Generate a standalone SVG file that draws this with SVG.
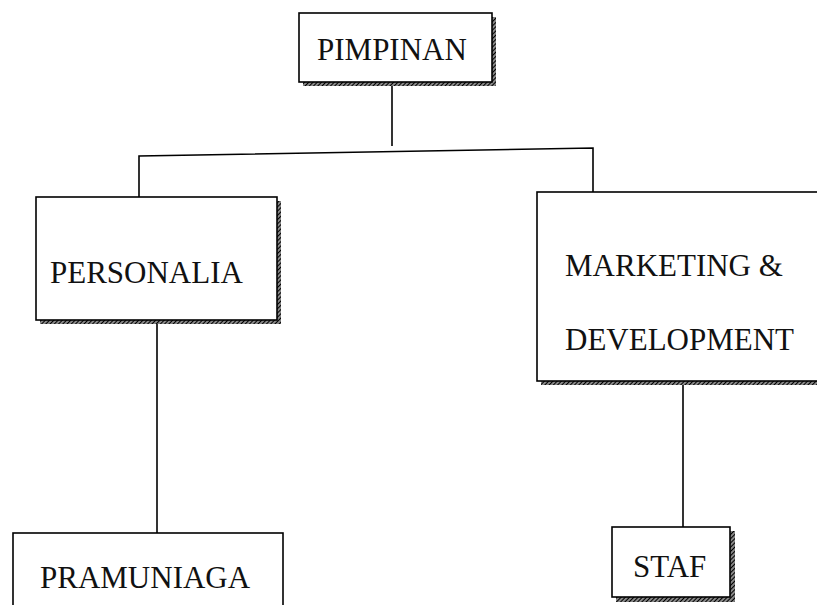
<svg xmlns="http://www.w3.org/2000/svg" width="817" height="605" viewBox="0 0 817 605">
<defs>
<pattern id="hatch" width="3" height="3" patternUnits="userSpaceOnUse" patternTransform="rotate(45)">
<rect width="3" height="3" fill="#888"/>
<line x1="0" y1="0" x2="0" y2="3" stroke="#000" stroke-width="2"/>
</pattern>
</defs>
<style>
.box{fill:#fff;stroke:#000;stroke-width:1.6}
.shadow{fill:url(#hatch)}
.lbl{font-family:"Liberation Serif","Times New Roman",serif;font-size:31px;fill:#111}
.conn{fill:none;stroke:#000;stroke-width:1.6}
</style>
<rect width="817" height="605" fill="#fff"/>
<g id="connectors">
<line class="conn" x1="392" y1="84" x2="392" y2="146"/>
<polyline class="conn" points="139,207 139,156 593,148 593,199"/>
<line class="conn" x1="157" y1="320" x2="157" y2="533"/>
<line class="conn" x1="683" y1="381" x2="683" y2="527"/>
</g>
<g id="pimpinan">
<rect class="shadow" x="303" y="17" width="193" height="69"/>
<rect class="box" x="299" y="13" width="193" height="69"/>
<text class="lbl" x="317" y="60">PIMPINAN</text>
</g>
<g id="personalia">
<rect class="shadow" x="40" y="201" width="241" height="123"/>
<rect class="box" x="36" y="197" width="241" height="123"/>
<text class="lbl" x="50" y="283">PERSONALIA</text>
</g>
<g id="marketing">
<rect class="shadow" x="541" y="196" width="290" height="189"/>
<rect class="box" x="537" y="192" width="290" height="189"/>
<text class="lbl" x="565" y="276">MARKETING &amp;</text>
<text class="lbl" x="565" y="350">DEVELOPMENT</text>
</g>
<g id="pramuniaga">
<rect class="box" x="13" y="533" width="270" height="80"/>
<text class="lbl" x="40" y="588">PRAMUNIAGA</text>
</g>
<g id="staf">
<rect class="shadow" x="616" y="531" width="119" height="71"/>
<rect class="box" x="612" y="527" width="118" height="70"/>
<text class="lbl" x="633" y="577">STAF</text>
</g>
</svg>
